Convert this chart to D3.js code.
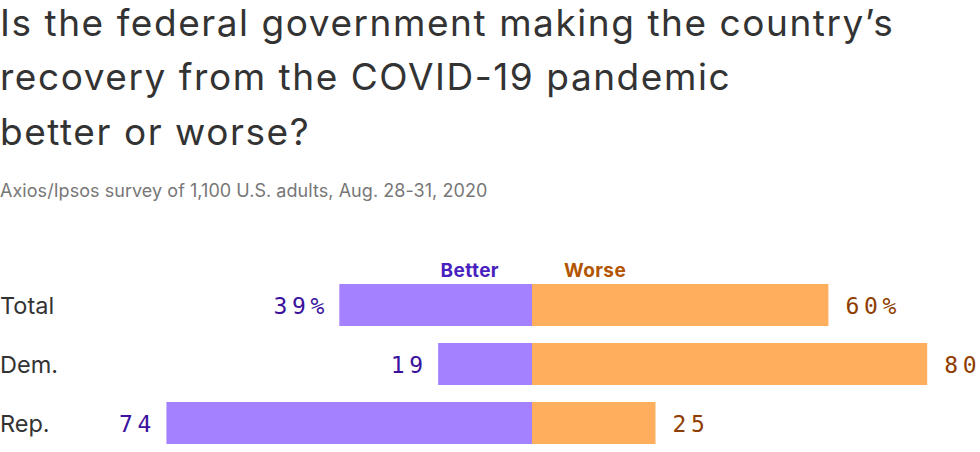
<!DOCTYPE html>
<html>
<head>
<meta charset="utf-8">
<script src="https://cdn.jsdelivr.net/npm/d3@7"></script>
<style>
  html, body { margin: 0; padding: 0; background: #fff; }
  svg { display: block; }
</style>
</head>
<body>
<svg id="chart" width="980" height="452"></svg>
<script>
const titleLines = ["Is the federal government making the country\u2019s", "recovery from the COVID-19 pandemic", "better or worse?"];
const subtitle = "Axios/Ipsos survey of 1,100 U.S. adults, Aug. 28-31, 2020";
const categories = ["Total", "Dem.", "Rep."];
const better = [39, 19, 74];
const worse = [60, 80, 25];
const seriesNames = ["Better", "Worse"];

const svg = d3.select("#chart");
const sans = "Inter, 'Noto Sans', sans-serif";
const mono = "'DejaVu Sans Mono', 'Liberation Mono', monospace";

// Title
const titleY = [36, 90, 145];
svg.append("g").selectAll("text").data(titleLines).join("text")
  .attr("x", 0).attr("y", (d, i) => titleY[i])
  .attr("font-family", sans).attr("font-size", 37).attr("fill", "#333")
  .attr("letter-spacing", 1.55)
  .text(d => d);

svg.append("text").attr("x", 0).attr("y", 197)
  .attr("font-family", sans).attr("font-size", 18).attr("fill", "#777")
  .attr("letter-spacing", 0.05)
  .text(subtitle);

const center = 532;
const x = d3.scaleLinear().domain([0, 100]).range([0, 494]);
const y = d3.scaleBand().domain(categories).range([284, 444]).paddingInner(17 / 59).paddingOuter(0);

const rows = categories.map((c, i) => ({ cat: c, better: better[i], worse: worse[i] }));

// Bars
svg.append("g").selectAll("rect").data(rows).join("rect")
  .attr("x", d => center - x(d.better)).attr("y", d => y(d.cat))
  .attr("width", d => x(d.better)).attr("height", y.bandwidth())
  .attr("fill", "#a381ff");
svg.append("g").selectAll("rect").data(rows).join("rect")
  .attr("x", center).attr("y", d => y(d.cat))
  .attr("width", d => x(d.worse)).attr("height", y.bandwidth())
  .attr("fill", "#ffae5e");

// Row labels
svg.append("g").selectAll("text").data(rows).join("text")
  .attr("x", 0).attr("y", d => y(d.cat) + y.bandwidth() / 2 + 8.5)
  .attr("font-family", sans).attr("font-size", 23.5).attr("fill", "#333")
  .text(d => d.cat);

// Value labels: spaced monospace characters placed one by one
const monoSize = 23;
const pitch = 18.5;          // character pitch (advance + tracking)
const advance = monoSize * 0.602;
function spacedLabel(g, str, startX, yPos, color) {
  const t = g.append("text").attr("y", yPos)
    .attr("font-family", mono).attr("font-size", monoSize).attr("fill", color);
  str.split("").forEach((ch, i) => {
    t.append("tspan").attr("x", startX + i * pitch).text(ch);
  });
}
const gv = svg.append("g");
rows.forEach((d, i) => {
  const yPos = y(d.cat) + y.bandwidth() / 2 + 8.5;
  const bl = d.better + (i === 0 ? "%" : "");
  const wl = d.worse + (i === 0 ? "%" : "");
  const blWidth = (bl.length - 1) * pitch + advance;
  spacedLabel(gv, bl, center - x(d.better) - 15 - blWidth, yPos, "#3a129e");
  spacedLabel(gv, wl, center + x(d.worse) + 17, yPos, "#8f3d00");
});

// Legend
svg.append("text").attr("x", center - 33).attr("y", 277)
  .attr("text-anchor", "end").attr("font-family", sans).attr("font-weight", 700)
  .attr("font-size", 19).attr("letter-spacing", 0.4).attr("fill", "#4a1fc0").text(seriesNames[0]);
svg.append("text").attr("x", center + 32).attr("y", 277)
  .attr("font-family", sans).attr("font-weight", 700)
  .attr("font-size", 19).attr("letter-spacing", 0.4).attr("fill", "#b35500").text(seriesNames[1]);
</script>
</body>
</html>
